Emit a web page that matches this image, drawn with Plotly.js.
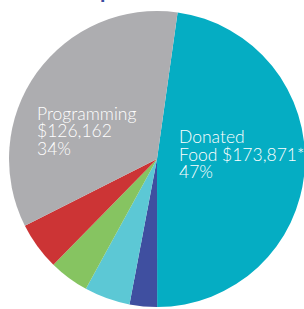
<!DOCTYPE html>
<html><head><meta charset="utf-8">
<script src="https://cdn.plot.ly/plotly-3.0.1.min.js"></script>
<style>html,body{margin:0;padding:0;overflow:hidden;background:#fff}</style>
</head><body><div id="chart"></div>
<script>
const categories = ["Donated Food", "Administration", "Fundraising", "Facilities", "Other", "Programming"];
const amounts = [173871, 10900, 18200, 15900, 19000, 126162];
const colors = ["#05ADC3", "#3F4FA0", "#5CC8D5", "#86C461", "#CC3435", "#ADADB0"];
const labelLines = {
  "Programming": ["Programming", "$126,162", "34%"],
  "Donated Food": ["Donated", "Food $173,871*", "47%"]
};
const titleFragment = "p";
const W = 320, H = 309;
function px(x){return x/W;}
function py(y){return 1 - y/H;}
const anns = [];
const place = {"Programming": {x: 36, y: [113, 130.5, 148]}, "Donated Food": {x: 178, y: [137, 154, 171]}};
for (const k in labelLines) {
  labelLines[k].forEach((t, i) => anns.push({
    text: t, xref: 'paper', yref: 'paper', x: px(place[k].x), y: py(place[k].y[i]),
    xanchor: 'left', yanchor: 'middle', showarrow: false, borderpad: 0,
    font: {family: 'Lato, sans-serif', size: 17.5, weight: 300, color: '#ffffff'}
  }));
}
anns.push({text: titleFragment, xref: 'paper', yref: 'paper', x: px(106.5), y: py(-11),
  xanchor: 'center', yanchor: 'middle', showarrow: false, borderpad: 0,
  font: {family: 'Lato, sans-serif', size: 22, weight: 700, color: '#3B4DA0'}});
Plotly.newPlot('chart', [{
  type: 'pie', labels: categories, values: amounts, sort: false, direction: 'clockwise',
  rotation: 8, textinfo: 'none', hoverinfo: 'label+value+percent',
  marker: {colors: colors, line: {width: 0}},
  domain: {x: [px(9), px(305)], y: [py(308), py(10)]}
}], {
  width: W, height: H, margin: {l: 0, r: 0, t: 0, b: 0}, showlegend: false,
  paper_bgcolor: '#ffffff', annotations: anns
}, {staticPlot: true});
</script></body></html>
